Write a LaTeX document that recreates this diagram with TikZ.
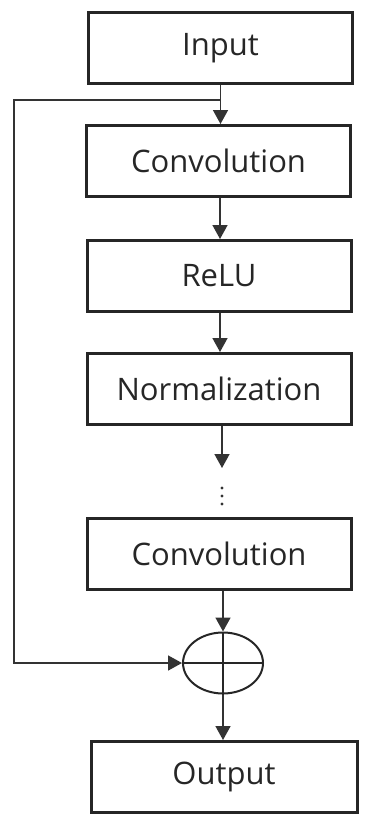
\documentclass[tikz,border=0pt]{standalone}
\usepackage{fontspec}
\setmainfont{Open Sans}
\usetikzlibrary{arrows.meta,shapes.geometric}
\begin{document}
\begin{tikzpicture}[x=1pt,y=-1pt,
  blockbox/.style={draw=black!85,line width=3pt,rectangle,minimum width=264pt,minimum height=71pt,inner sep=0pt,font=\fontsize{31}{36}\selectfont,text=black!85},
  flow/.style={draw=black!80,line width=1.6pt,-{Triangle[width=15pt,length=14pt]}},
  sumnode/.style={draw=black!85,line width=2pt,ellipse,minimum width=80pt,minimum height=61pt,inner sep=0pt}]
\useasboundingbox (0,0) rectangle (386,814);
\node[blockbox] (in)    at (220.5,48)  {Input};
\node[blockbox] (conv1) at (218.5,161) {Convolution};
\node[blockbox] (relu)  at (219,276)   {ReLU};
\node[blockbox] (norm)  at (219,389)   {Normalization};
\node[blockbox] (conv2) at (219,554)   {Convolution};
\node[sumnode]  (sum)   at (223,663)   {};
\node[blockbox,minimum width=266pt] (out) at (224,777) {Output};
% plus sign inside the summation ellipse
\draw[line width=2pt,black!85] (sum.north) -- (sum.south) (sum.west) -- (sum.east);
% main chain
\coordinate (split) at (220.5,100);
\coordinate (corner) at (14,100);
\coordinate (dotsend) at (222,468);
\draw[flow] (in.south) -- (conv1.north -| in.south);
\draw[flow] (conv1.south -| 220,0) -- (relu.north -| 220,0);
\draw[flow] (relu.south -| 220,0) -- (norm.north -| 220,0);
\draw[flow] (norm.south -| 222,0) -- (dotsend);
\foreach \yy in {488,496,504} \fill[black!80] (222,\yy) circle (1.6pt);
\draw[flow] (conv2.south -| sum.north) -- (sum.north);
\draw[flow] (sum.south) -- (out.north -| sum.south);
% skip connection
\draw[flow] (split) -- (corner) |- (sum.west);
\end{tikzpicture}
\end{document}
